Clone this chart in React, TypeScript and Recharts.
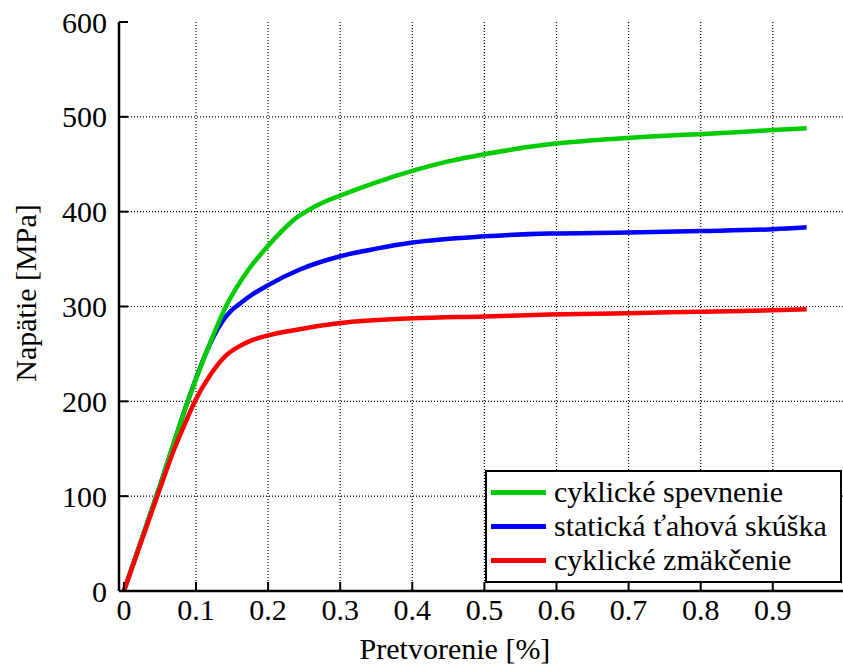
import React from 'react';
import { LineChart, Line, XAxis, YAxis, CartesianGrid, Legend } from 'recharts';

// strain [%] / stress [MPa]
const hardeningStrain = [0, 0.05, 0.089, 0.115, 0.1415, 0.173, 0.2, 0.221, 0.235, 0.25, 0.265, 0.28, 0.3, 0.35, 0.4, 0.45, 0.5, 0.59, 0.665, 0.75, 0.805, 0.9, 0.947];
const hardeningStress = [0, 111, 201, 253, 300, 339, 364, 381, 391, 399, 405.5, 411, 417, 431, 443, 453, 460.5, 471, 476, 480, 482, 486, 488];

const staticStrain = [0, 0.05, 0.089, 0.115, 0.13, 0.14, 0.15, 0.16, 0.173, 0.2, 0.244, 0.3, 0.35, 0.4, 0.5, 0.59, 0.7, 0.8, 0.9, 0.947];
const staticStress = [0, 111, 201, 253, 276, 288, 296.5, 302.5, 310, 322.5, 339, 353, 361, 367.5, 374, 377, 378, 379.5, 381.5, 383.5];

const softeningStrain = [0, 0.05, 0.07, 0.085, 0.0985, 0.12, 0.1425, 0.16, 0.173, 0.2, 0.244, 0.3, 0.4, 0.5, 0.59, 0.7, 0.8, 0.9, 0.947];
const softeningStress = [0, 108, 150, 177, 200, 228, 249, 258, 263, 269.5, 276, 282.5, 287.5, 289.5, 291.5, 293, 294.5, 296, 297];

const xTicks = [0, 0.1, 0.2, 0.3, 0.4, 0.5, 0.6, 0.7, 0.8, 0.9];
const yTicks = [0, 100, 200, 300, 400, 500, 600];

const zip = (xs: number[], ys: number[]) => xs.map((x, i) => ({ x, y: ys[i] }));

// legend order
const series = [
  { name: 'cyklické spevnenie', color: '#00cc00', data: zip(hardeningStrain, hardeningStress) },
  { name: 'statická ťahová skúška', color: '#0000ff', data: zip(staticStrain, staticStress) },
  { name: 'cyklické zmäkčenie', color: '#ff0000', data: zip(softeningStrain, softeningStress) },
];
// draw order: blue under green, red on top
const drawOrder = [1, 0, 2];

const FONT = 'Liberation Serif, Times New Roman, serif';

const XTick = (p: any) => (
  <text x={p.x} y={p.y} dy="0.71em" textAnchor="middle" fontFamily={FONT} fontSize={30} fill="#000">
    {String(p.payload.value)}
  </text>
);

const YTick = (p: any) => (
  <text x={p.x} y={p.y} dy="0.355em" textAnchor="end" fontFamily={FONT} fontSize={30} fill="#000">
    {String(p.payload.value)}
  </text>
);

function LegendBox() {
  return (
    <div
      style={{
        boxSizing: 'border-box',
        width: 357,
        height: 113,
        border: '2px solid #000',
        background: '#fff',
        paddingTop: 3,
        fontFamily: FONT,
        fontSize: 30,
        color: '#000',
      }}
    >
      {series.map((s) => (
        <div key={s.name} style={{ display: 'flex', alignItems: 'center', height: 34, whiteSpace: 'nowrap' }}>
          <div style={{ width: 55, height: 5, background: s.color, marginLeft: 4, marginRight: 8 }} />
          <span style={{ fontFamily: FONT }}>{s.name}</span>
        </div>
      ))}
    </div>
  );
}

export default function App() {
  return (
    <div style={{ position: 'absolute', left: 0, top: 0, background: '#fff', fontFamily: FONT }}>
      <LineChart width={843} height={669} margin={{ top: 22, right: 0, bottom: 0, left: 0 }}>
        <CartesianGrid
          stroke="#000"
          strokeDasharray="1 2"
          strokeWidth={1.2}
          verticalValues={xTicks.slice(1)}
          horizontalValues={yTicks.slice(1, -1)}
        />
        <XAxis
          type="number"
          dataKey="x"
          domain={[-0.0068, 0.9974]}
          ticks={xTicks}
          allowDataOverflow
          height={78}
          tickSize={-9}
          tickMargin={17}
          tick={XTick}
          axisLine={{ stroke: '#000', strokeWidth: 2.5 }}
          tickLine={{ stroke: '#000', strokeWidth: 2 }}
          label={{
            content: () => (
              <text x={455} y={659} textAnchor="middle" fontFamily={FONT} fontSize={30} fill="#000">
                Pretvorenie [%]
              </text>
            ),
          }}
        />
        <XAxis
          xAxisId="top"
          orientation="top"
          type="number"
          dataKey="x"
          domain={[-0.0068, 0.9974]}
          ticks={xTicks}
          allowDataOverflow
          height={0}
          tickSize={-9}
          tick={false}
          axisLine={{ stroke: '#000', strokeWidth: 2.5 }}
          tickLine={{ stroke: '#000', strokeWidth: 2 }}
        />
        <YAxis
          type="number"
          domain={[0, 600]}
          ticks={yTicks}
          width={119}
          tickSize={-9}
          tickMargin={21}
          tick={YTick}
          axisLine={{ stroke: '#000', strokeWidth: 2.5 }}
          tickLine={{ stroke: '#000', strokeWidth: 2 }}
          label={{
            content: () => (
              <text
                x={36}
                y={293}
                transform="rotate(-90 36 293)"
                textAnchor="middle"
                fontFamily={FONT}
                fontSize={30}
                fill="#000"
              >
                Napätie [MPa]
              </text>
            ),
          }}
        />
        <YAxis
          yAxisId="right"
          orientation="right"
          type="number"
          domain={[0, 600]}
          ticks={yTicks}
          width={0}
          tickSize={-9}
          tick={false}
          axisLine={false}
          tickLine={{ stroke: '#000', strokeWidth: 2 }}
        />
        {drawOrder.map((i) => (
          <Line
            key={series[i].name}
            data={series[i].data}
            dataKey="y"
            name={series[i].name}
            type="monotone"
            stroke={series[i].color}
            strokeWidth={4.5}
            dot={false}
            activeDot={false}
            isAnimationActive={false}
          />
        ))}
        <Legend
          layout="vertical"
          align="center"
          verticalAlign="middle"
          content={() => <LegendBox />}
          wrapperStyle={{ left: 485, top: 470, width: 357, height: 113 }}
        />
      </LineChart>
    </div>
  );
}
